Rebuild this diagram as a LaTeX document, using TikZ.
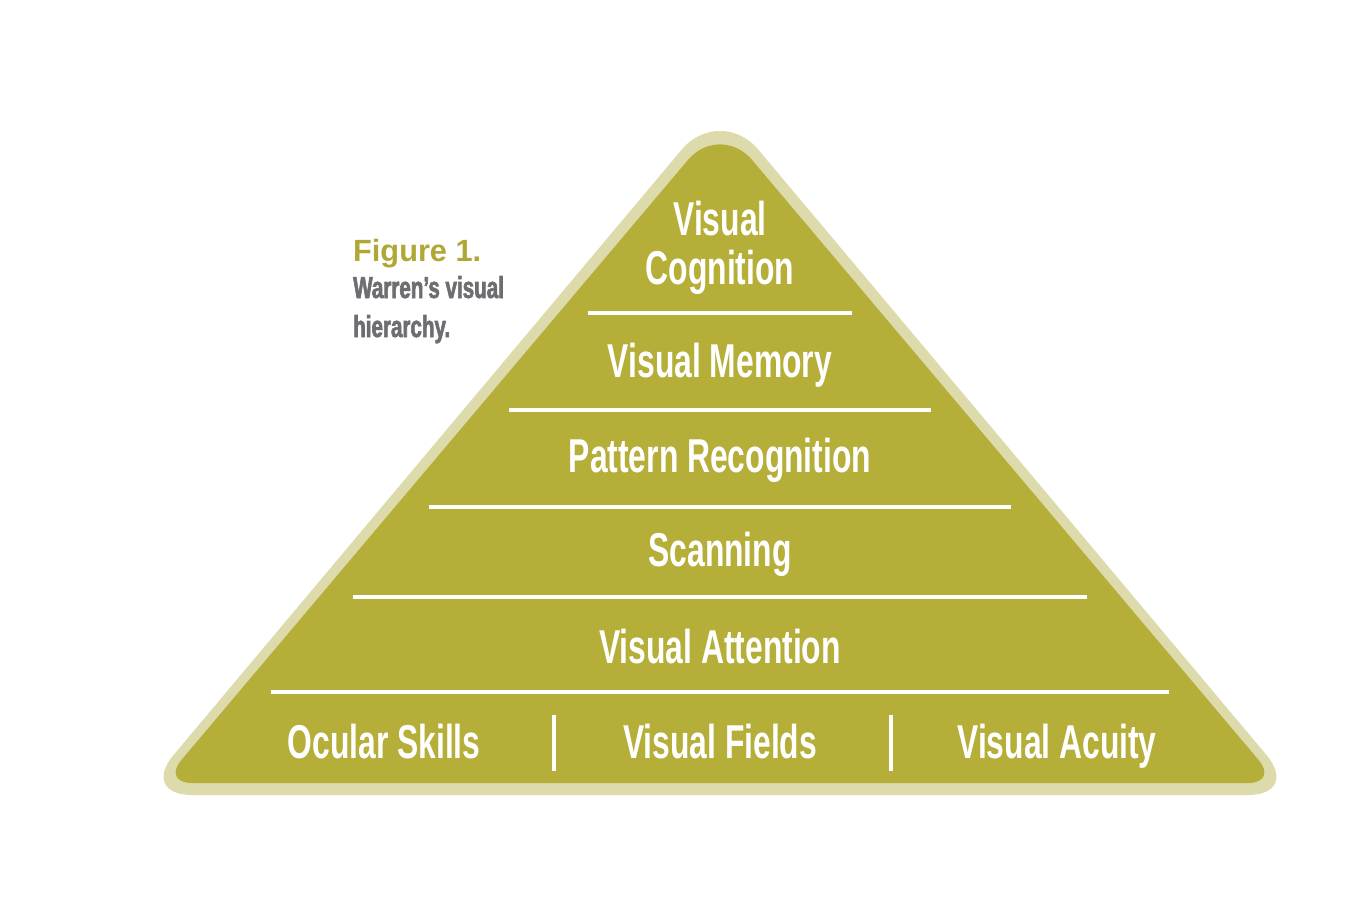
\documentclass[tikz,border=0pt]{standalone}
\usepackage{fontspec}
\usepackage{xcolor}
\setmainfont{Liberation Sans}
\newfontfamily\layerfont[FakeStretch=0.67]{Liberation Sans}
\newfontfamily\captionfont[FakeStretch=0.68, FakeBold=2]{Liberation Sans}
\definecolor{pyrolive}{RGB}{181,174,57}
\definecolor{pyrlight}{RGB}{221,218,171}
\definecolor{figolive}{RGB}{176,168,52}
\definecolor{capgray}{RGB}{109,110,113}

\begin{document}
\begin{tikzpicture}[x=1pt, y=-1pt, layer/.style={text=white, inner sep=0pt, anchor=base, font=\layerfont\bfseries\fontsize{47.5}{50}\selectfont}, caption/.style={inner sep=0pt, anchor=base west}, divider/.style={draw=white, line width=3.3pt}]
  \fill[white] (0,0) rectangle (1364,902);
  \useasboundingbox (0,0) rectangle (1364,902);
  % pyramid: light rim, olive body
  \fill[pyrlight] (720,795) [rounded corners=52] -- (140,795) [rounded corners=60] -- (720,104) [rounded corners=52] -- (1300,795) -- cycle;
  \fill[pyrolive] (720,783) [rounded corners=30] -- (162,783) [rounded corners=50] -- (720,122) [rounded corners=30] -- (1278,783) -- cycle;
  % layer separators
  \foreach \y/\w in {313/132, 410/211, 507/291, 597/367, 692/449}
    \draw[divider] (720-\w,\y) -- (720+\w,\y);
  \draw[divider, line width=3.6pt] (554,715) -- (554,771);
  \draw[divider, line width=3.6pt] (891,715) -- (891,771);
  % layers
  \node[layer] (cogtop) at (720,235) {Visual};
  \node[layer] (cog) at (720,284) {Cognition};
  \node[layer] (memory) at (720,377) {Visual Memory};
  \node[layer] (pattern) at (720,472) {Pattern Recognition};
  \node[layer] (scan) at (720,566) {Scanning};
  \node[layer] (attention) at (720,663) {Visual Attention};
  \node[layer] (ocular) at (384,758) {Ocular Skills};
  \node[layer] (fields) at (720,758) {Visual Fields};
  \node[layer] (acuity) at (1057,758) {Visual Acuity};
  % caption
  \node[caption, text=figolive, font=\bfseries\fontsize{30.7}{34}\selectfont] (fig) at (353,261) {Figure 1.};
  \node[caption, text=capgray, font=\captionfont\bfseries\fontsize{30.3}{34}\selectfont] (capa) at (353,298) {Warren’s visual};
  \node[caption, text=capgray, font=\captionfont\bfseries\fontsize{30.3}{34}\selectfont] (capb) at (353,337) {hierarchy.};
\end{tikzpicture}
\end{document}
